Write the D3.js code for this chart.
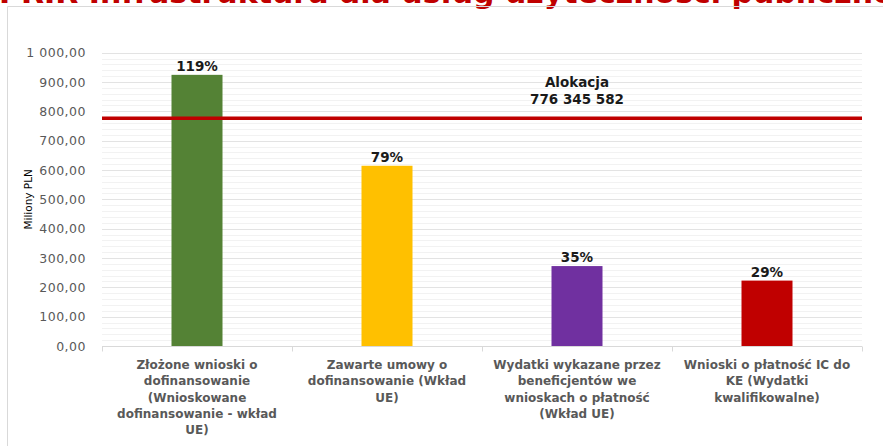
<!DOCTYPE html>
<html>
<head>
<meta charset="utf-8">
<script src="https://cdn.jsdelivr.net/npm/d3@7"></script>
<style>
  body { margin: 0; background: #fff; }
  svg { display: block; font-family: "DejaVu Sans", Verdana, sans-serif; }
</style>
</head>
<body>
<div id="d3-container"></div>
<script>
// categories (x axis labels, already split into lines)
const categories = [
  ["Złożone wnioski o", "dofinansowanie", "(Wnioskowane", "dofinansowanie - wkład", "UE)"],
  ["Zawarte umowy o", "dofinansowanie (Wkład", "UE)"],
  ["Wydatki wykazane przez", "beneficjentów we", "wnioskach o płatność", "(Wkład UE)"],
  ["Wnioski o płatność IC do", "KE (Wydatki", "kwalifikowalne)"]
];
// values in millions PLN
const values = [924.5, 614.5, 272.5, 223.0];
const percentLabels = ["119%", "79%", "35%", "29%"];
const barColors = ["#548235", "#ffc000", "#7030a0", "#c00000"];
const allocation = 776.345582;
const allocationLabel = ["Alokacja", "776 345 582"];
const yTicks = [0, 100, 200, 300, 400, 500, 600, 700, 800, 900, 1000];
const title = "PRIR Infrastruktura dla usług użyteczności publicznej";

const width = 883;
const height = 446;
const margin = { top: 52.7, bottom: 100, left: 102, right: 21 };

const svg = d3.select("#d3-container")
  .append("svg")
  .attr("width", width)
  .attr("height", height);

// title, cut off by the top edge as in the source screenshot
const tt = svg.append("text")
  .attr("x", 0)
  .attr("y", 2.5)
  .attr("fill", "#c00000")
  .attr("font-size", "30px")
  .attr("font-weight", "bold")
  .text(title);
// place "g" of "usług" at ~473px
const gi = title.indexOf("usług") + 4;
const gx = tt.node().getSubStringLength(0, gi);
tt.attr("x", 473 - gx);

// chart frame
svg.append("path")
  .attr("d", `M7.5,${height} V6.5 H${width}`)
  .attr("fill", "none")
  .attr("stroke", "#d9d9d9");

const x = d3.scaleBand()
  .domain(d3.range(categories.length))
  .range([margin.left, width - margin.right])
  .padding(0);

const y = d3.scaleLinear()
  .domain([0, 1000])
  .range([height - margin.bottom, margin.top]);

// minor gridlines
svg.append("g")
  .selectAll("line")
  .data(d3.range(0, 1000, 20).filter(d => d % 100 !== 0))
  .join("line")
    .attr("x1", margin.left)
    .attr("x2", width - margin.right)
    .attr("y1", d => Math.round(y(d)) + 0.5)
    .attr("y2", d => Math.round(y(d)) + 0.5)
    .attr("stroke", "#f2f2f2");

// major gridlines
svg.append("g")
  .selectAll("line")
  .data(yTicks.filter(d => d > 0))
  .join("line")
    .attr("x1", margin.left)
    .attr("x2", width - margin.right)
    .attr("y1", d => Math.round(y(d)) + 0.5)
    .attr("y2", d => Math.round(y(d)) + 0.5)
    .attr("stroke", "#e3e3e3");

// y axis
function yAxis(g) {
  g.attr("transform", `translate(${margin.left}, 0)`)
    .call(d3.axisLeft(y).tickValues(yTicks).tickSize(0).tickPadding(16)
      .tickFormat(d => d3.format(",.2f")(d).replace(",", " ").replace(".", ",")))
    .call(g => g.select(".domain").remove())
    .attr("font-size", "12.5px")
    .attr("font-family", null)
    .selectAll("text").attr("fill", "#595959").attr("letter-spacing", "0.5px");
}
svg.append("g").call(yAxis);

svg.append("text")
  .attr("transform", `translate(32, ${y(500)}) rotate(-90)`)
  .attr("text-anchor", "middle")
  .attr("font-size", "10.5px")
  .attr("fill", "#000")
  .text("Miliony PLN");

// x axis
function xAxis(g) {
  g.attr("transform", `translate(0,${Math.round(y(0)) + 0.5})`)
    .call(d3.axisBottom(x).tickSize(0).tickFormat(""))
    .call(g => g.select(".domain").attr("stroke", "#d9d9d9").attr("d", `M${margin.left},0H${width - margin.right}`));
  g.selectAll(".sep")
    .data(d3.range(categories.length + 1))
    .join("line")
      .attr("x1", i => Math.round(margin.left + i * x.step()) + 0.5)
      .attr("x2", i => Math.round(margin.left + i * x.step()) + 0.5)
      .attr("y1", 0)
      .attr("y2", 5)
      .attr("stroke", "#d9d9d9");
}
svg.append("g").call(xAxis);

const labels = svg.append("g")
  .attr("font-size", "12px")
  .attr("font-weight", "bold")
  .attr("fill", "#595959")
  .attr("text-anchor", "middle");
categories.forEach((lines, i) => {
  const t = labels.append("text")
    .attr("x", x(i) + x.bandwidth() / 2)
    .attr("y", y(0) + 23);
  lines.forEach((l, j) => {
    t.append("tspan")
      .attr("x", x(i) + x.bandwidth() / 2)
      .attr("dy", j === 0 ? 0 : 16.3)
      .text(l);
  });
});

// bars
const barW = 51;
svg.append("g")
  .selectAll("rect")
  .data(values)
  .join("rect")
    .attr("x", (d, i) => x(i) + x.bandwidth() / 2 - barW / 2)
    .attr("y", d => y(d))
    .attr("width", barW)
    .attr("height", d => y(0) - y(d))
    .attr("fill", (d, i) => barColors[i]);

// percent labels
svg.append("g")
  .attr("font-size", "13.5px")
  .attr("font-weight", "bold")
  .attr("fill", "#1a1a1a")
  .attr("text-anchor", "middle")
  .selectAll("text")
  .data(values)
  .join("text")
    .attr("x", (d, i) => x(i) + x.bandwidth() / 2)
    .attr("y", d => y(d) - 4)
    .text((d, i) => percentLabels[i]);

// allocation line
svg.append("line")
  .attr("x1", margin.left)
  .attr("x2", width - margin.right)
  .attr("y1", y(allocation))
  .attr("y2", y(allocation))
  .attr("stroke", "#c00000")
  .attr("stroke-width", 3.5);

const al = svg.append("text")
  .attr("font-size", "13.5px")
  .attr("font-weight", "bold")
  .attr("fill", "#1a1a1a")
  .attr("text-anchor", "middle")
  .attr("y", y(allocation) - 31);
allocationLabel.forEach((l, j) => {
  al.append("tspan")
    .attr("x", x(2) + x.bandwidth() / 2)
    .attr("dy", j === 0 ? 0 : 17)
    .text(l);
});
</script>
</body>
</html>
